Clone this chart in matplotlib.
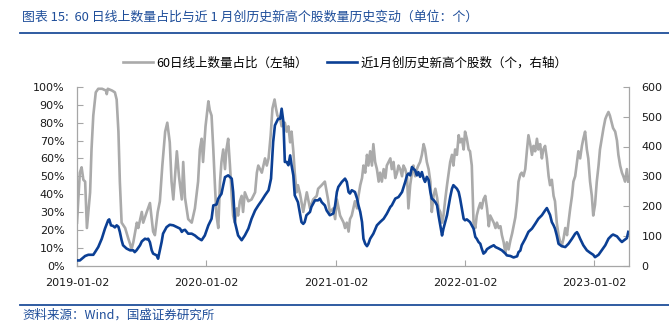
import matplotlib
matplotlib.use('Agg')
import matplotlib.pyplot as plt
from matplotlib.lines import Line2D
from matplotlib.ticker import PercentFormatter, MultipleLocator
from matplotlib.font_manager import FontProperties
import pandas as pd

TITLE = "图表 15:  60 日线上数量占比与近 1 月创历史新高个股数量历史变动（单位：个）"
SOURCE = "资料来源：Wind，国盛证券研究所"
LABEL_GRAY = "60日线上数量占比（左轴）"
LABEL_BLUE = "近1月创历史新高个股数（个，右轴）"
XTICK_LABELS = ["2019-01-02", "2020-01-02", "2021-01-02", "2022-01-02", "2023-01-02"]

gray_dates = [
    "2019-01-02", "2019-01-10", "2019-01-15", "2019-01-20", "2019-01-25", "2019-01-30", "2019-02-08", "2019-02-12",
    "2019-02-17", "2019-02-24", "2019-03-03", "2019-03-14", "2019-03-25", "2019-03-27", "2019-03-30", "2019-04-11",
    "2019-04-19", "2019-04-24", "2019-04-29", "2019-05-03", "2019-05-08", "2019-05-18", "2019-05-27", "2019-06-01",
    "2019-06-05", "2019-06-10", "2019-06-20", "2019-06-24", "2019-07-04", "2019-07-08", "2019-07-18", "2019-07-27",
    "2019-08-05", "2019-08-10", "2019-08-18", "2019-08-24", "2019-08-31", "2019-09-08", "2019-09-14", "2019-09-21",
    "2019-09-26", "2019-10-01", "2019-10-11", "2019-10-17", "2019-10-25", "2019-10-29", "2019-11-03", "2019-11-12",
    "2019-11-22", "2019-12-01", "2019-12-10", "2019-12-15", "2019-12-20", "2019-12-24", "2019-12-31",
    "2020-01-08", "2020-01-12", "2020-01-17", "2020-01-22", "2020-01-27", "2020-01-31", "2020-02-05", "2020-02-10",
    "2020-02-14", "2020-02-19", "2020-02-24", "2020-02-28", "2020-03-04", "2020-03-09", "2020-03-14", "2020-03-18",
    "2020-03-23", "2020-03-28", "2020-04-01", "2020-04-06", "2020-04-11", "2020-04-15", "2020-04-20", "2020-04-30",
    "2020-05-09", "2020-05-19", "2020-05-24", "2020-05-28", "2020-06-07", "2020-06-16", "2020-06-21", "2020-06-26",
    "2020-07-02", "2020-07-07", "2020-07-13", "2020-07-17", "2020-07-21", "2020-07-29", "2020-08-02", "2020-08-11",
    "2020-08-16", "2020-08-21", "2020-08-26", "2020-08-30", "2020-09-04", "2020-09-08", "2020-09-13", "2020-09-17",
    "2020-09-23", "2020-10-02", "2020-10-12", "2020-10-21", "2020-10-30", "2020-11-09", "2020-11-13", "2020-11-23",
    "2020-12-02", "2020-12-11", "2020-12-16", "2020-12-26", "2020-12-31",
    "2021-01-05", "2021-01-14", "2021-01-24", "2021-01-28", "2021-02-02", "2021-02-07", "2021-02-11", "2021-02-16",
    "2021-02-25", "2021-03-03", "2021-03-07", "2021-03-12", "2021-03-17", "2021-03-21", "2021-03-26", "2021-03-31",
    "2021-04-04", "2021-04-09", "2021-04-14", "2021-04-18", "2021-04-23", "2021-04-28", "2021-05-03", "2021-05-07",
    "2021-05-12", "2021-05-17", "2021-05-22", "2021-05-26", "2021-05-31", "2021-06-05", "2021-06-09", "2021-06-14",
    "2021-06-19", "2021-06-24", "2021-06-28", "2021-07-03", "2021-07-08", "2021-07-12", "2021-07-17", "2021-07-22",
    "2021-07-26", "2021-07-31", "2021-08-05", "2021-08-09", "2021-08-14", "2021-08-19", "2021-08-23", "2021-08-28",
    "2021-09-02", "2021-09-07", "2021-09-11", "2021-09-16", "2021-09-21", "2021-09-26", "2021-09-30", "2021-10-05",
    "2021-10-10", "2021-10-15", "2021-10-19", "2021-10-24", "2021-10-29", "2021-11-02", "2021-11-07", "2021-11-12",
    "2021-11-17", "2021-11-21", "2021-11-26", "2021-11-30", "2021-12-05", "2021-12-10", "2021-12-15", "2021-12-19",
    "2021-12-24", "2021-12-29",
    "2022-01-02", "2022-01-07", "2022-01-12", "2022-01-16", "2022-01-21", "2022-01-26", "2022-01-31", "2022-02-04",
    "2022-02-09", "2022-02-14", "2022-02-18", "2022-02-23", "2022-02-28", "2022-03-05", "2022-03-10", "2022-03-14",
    "2022-03-19", "2022-03-24", "2022-03-29", "2022-04-02", "2022-04-07", "2022-04-12", "2022-04-16", "2022-04-21",
    "2022-04-26", "2022-04-30", "2022-05-05", "2022-05-10", "2022-05-15", "2022-05-19", "2022-05-24", "2022-05-29",
    "2022-06-02", "2022-06-07", "2022-06-11", "2022-06-16", "2022-06-21", "2022-06-26", "2022-06-30", "2022-07-05",
    "2022-07-10", "2022-07-14", "2022-07-19", "2022-07-24", "2022-07-28", "2022-08-02", "2022-08-07", "2022-08-11",
    "2022-08-16", "2022-08-21", "2022-08-26", "2022-08-30", "2022-09-04", "2022-09-09", "2022-09-13", "2022-09-18",
    "2022-09-23", "2022-09-28", "2022-10-02", "2022-10-07", "2022-10-12", "2022-10-17", "2022-10-21", "2022-10-26",
    "2022-10-31", "2022-11-04", "2022-11-09", "2022-11-14", "2022-11-18", "2022-11-23", "2022-11-28", "2022-12-02",
    "2022-12-07", "2022-12-12", "2022-12-16", "2022-12-21", "2022-12-26", "2022-12-30",
    "2023-01-04", "2023-01-09", "2023-01-14", "2023-01-18", "2023-01-23", "2023-01-28", "2023-02-02", "2023-02-06",
    "2023-02-11", "2023-02-15", "2023-02-20", "2023-02-24", "2023-03-02", "2023-03-07", "2023-03-11", "2023-03-16",
    "2023-03-21", "2023-03-25", "2023-03-30", "2023-04-04", "2023-04-08",
]
gray_pct = [
    24, 52, 55, 48, 47, 21, 41, 65, 84, 97, 99, 99, 98, 96, 99, 98, 97, 93, 75, 47, 24, 21, 15, 12, 9, 13, 24, 21,
    30, 24, 30, 35, 19, 17, 30, 36, 56, 75, 80, 69, 47, 37, 64, 50, 37, 58, 38, 26, 24, 32, 47, 65, 71, 58, 78,
    92, 87, 84, 65, 43, 28, 21, 47, 58, 65, 54, 65, 71, 56, 39, 28, 24, 32, 28, 36, 39, 30, 41, 36, 37, 41, 52, 56,
    52, 60, 56, 60, 73, 88, 93, 88, 84, 82, 78, 80, 75, 78, 69, 75, 64, 52, 41, 45, 40, 30, 41, 32, 37, 39, 43, 45,
    47, 37, 30, 32, 26,
    37, 28, 24, 21, 24, 19, 26, 28, 36, 32, 39, 45, 49, 56, 52, 62, 56, 64, 56, 68, 58, 54, 47, 52, 47, 54, 49, 56,
    58, 60, 54, 58, 49, 52, 56, 54, 50, 56, 54, 50, 32, 45, 52, 56, 50, 54, 56, 58, 62, 68, 65, 58, 54, 47, 30, 39,
    43, 38, 32, 30, 24, 28, 37, 45, 52, 58, 62, 56, 65, 62, 73, 69, 71, 65,
    75, 71, 65, 64, 56, 24, 21, 28, 32, 35, 32, 37, 39, 32, 22, 28, 26, 24, 21, 24, 21, 22, 17, 13, 7, 13, 9, 14,
    18, 22, 27, 36, 47, 51, 52, 50, 54, 65, 73, 68, 62, 67, 64, 71, 65, 68, 60, 65, 67, 60, 50, 45, 48, 39, 36, 24,
    17, 13, 11, 15, 21, 17, 24, 32, 39, 47, 50, 58, 64, 60, 67, 71, 75, 65, 60, 47, 39, 28,
    34, 47, 56, 65, 71, 77, 82, 84, 86, 84, 80, 77, 75, 70, 62, 56, 52, 50, 47, 54, 47,
]

blue_dates = [
    "2019-01-02", "2019-01-10", "2019-01-15", "2019-01-25", "2019-02-03", "2019-02-17", "2019-02-22", "2019-03-03",
    "2019-03-13", "2019-03-22", "2019-03-31", "2019-04-03", "2019-04-08", "2019-04-14", "2019-04-19", "2019-04-24",
    "2019-04-29", "2019-05-03", "2019-05-08", "2019-05-12", "2019-05-22", "2019-06-01", "2019-06-10", "2019-06-14",
    "2019-06-19", "2019-06-29", "2019-07-04", "2019-07-13", "2019-07-18", "2019-07-22", "2019-07-27", "2019-08-01",
    "2019-08-05", "2019-08-15", "2019-08-19", "2019-08-24", "2019-08-29", "2019-09-02", "2019-09-12", "2019-09-21",
    "2019-10-01", "2019-10-11", "2019-10-20", "2019-10-25", "2019-10-29", "2019-11-03", "2019-11-12", "2019-11-22",
    "2019-12-01", "2019-12-10", "2019-12-20", "2019-12-29",
    "2020-01-08", "2020-01-17", "2020-01-22", "2020-01-31", "2020-02-05", "2020-02-14", "2020-02-19", "2020-02-24",
    "2020-03-04", "2020-03-14", "2020-03-18", "2020-03-23", "2020-04-01", "2020-04-11", "2020-04-20", "2020-04-30",
    "2020-05-09", "2020-05-19", "2020-05-28", "2020-06-07", "2020-06-16", "2020-06-26", "2020-07-03", "2020-07-09",
    "2020-07-14", "2020-07-23", "2020-07-29", "2020-08-02", "2020-08-07", "2020-08-11", "2020-08-16", "2020-08-21",
    "2020-08-26", "2020-08-30", "2020-09-04", "2020-09-08", "2020-09-17", "2020-09-27", "2020-10-02", "2020-10-06",
    "2020-10-11", "2020-10-21", "2020-10-25", "2020-11-04", "2020-11-13", "2020-11-18", "2020-11-23", "2020-12-02",
    "2020-12-07", "2020-12-16", "2020-12-26", "2020-12-31",
    "2021-01-05", "2021-01-09", "2021-01-19", "2021-01-28", "2021-02-02", "2021-02-07", "2021-02-11", "2021-02-16",
    "2021-02-25", "2021-03-03", "2021-03-07", "2021-03-12", "2021-03-17", "2021-03-21", "2021-03-26", "2021-03-31",
    "2021-04-04", "2021-04-09", "2021-04-18", "2021-04-28", "2021-05-07", "2021-05-17", "2021-05-26", "2021-06-05",
    "2021-06-09", "2021-06-19", "2021-06-28", "2021-07-08", "2021-07-17", "2021-07-22", "2021-07-26", "2021-07-31",
    "2021-08-05", "2021-08-09", "2021-08-14", "2021-08-19", "2021-08-23", "2021-08-28", "2021-09-02", "2021-09-07",
    "2021-09-11", "2021-09-16", "2021-09-21", "2021-09-26", "2021-09-30", "2021-10-05", "2021-10-10", "2021-10-15",
    "2021-10-19", "2021-10-24", "2021-10-29", "2021-11-02", "2021-11-07", "2021-11-12", "2021-11-17", "2021-11-21",
    "2021-11-26", "2021-11-30", "2021-12-05", "2021-12-10", "2021-12-15", "2021-12-19", "2021-12-24", "2021-12-29",
    "2022-01-02", "2022-01-07", "2022-01-12", "2022-01-16", "2022-01-21", "2022-01-26", "2022-01-31", "2022-02-04",
    "2022-02-09", "2022-02-14", "2022-02-18", "2022-02-23", "2022-02-28", "2022-03-05", "2022-03-14", "2022-03-24",
    "2022-03-29", "2022-04-07", "2022-04-16", "2022-04-26", "2022-04-30", "2022-05-10", "2022-05-19", "2022-05-29",
    "2022-06-02", "2022-06-07", "2022-06-11", "2022-06-21", "2022-06-30", "2022-07-10", "2022-07-19", "2022-07-28",
    "2022-08-07", "2022-08-16", "2022-08-21", "2022-08-26", "2022-08-30", "2022-09-04", "2022-09-09", "2022-09-13",
    "2022-09-18", "2022-09-23", "2022-10-02", "2022-10-12", "2022-10-17", "2022-10-21", "2022-10-31", "2022-11-09",
    "2022-11-14", "2022-11-18", "2022-11-23", "2022-12-02", "2022-12-12", "2022-12-21", "2022-12-30",
    "2023-01-04", "2023-01-14", "2023-01-23", "2023-02-02", "2023-02-11", "2023-02-20", "2023-02-24", "2023-03-07",
    "2023-03-16", "2023-03-21", "2023-03-25", "2023-04-04", "2023-04-08",
]
blue_count = [
    17, 17, 22, 32, 36, 36, 45, 62, 90, 124, 152, 155, 135, 133, 128, 135, 130, 113, 85, 68, 57, 51, 51, 45, 51, 68,
    81, 90, 88, 90, 78, 51, 40, 34, 23, 51, 79, 107, 129, 137, 135, 129, 124, 113, 118, 120, 107, 107, 101, 92, 85, 101,
    135, 157, 202, 205, 225, 241, 270, 297, 303, 292, 247, 146, 101, 85, 101, 124, 157, 185, 202, 219, 236, 253, 292,
    415, 471, 493, 493, 527, 482, 348, 348, 337, 370, 337, 303, 236, 213, 146, 140, 146, 169, 180, 197, 219, 219, 225,
    213, 202, 185, 169, 175, 202,
    247, 264, 281, 292, 281, 247, 242, 253, 247, 225, 202, 180, 146, 90, 73, 65, 73, 90, 107, 135, 146, 157, 174, 197,
    202, 225, 230, 247, 281, 303, 309, 303, 331, 325, 320, 303, 314, 298, 314, 292, 281, 298, 287, 247, 225, 220, 213,
    202, 169, 135, 101, 124, 146, 169, 202, 230, 258, 270, 264, 258, 247, 225, 191, 157,
    152, 155, 150, 146, 135, 124, 96, 90, 79, 73, 57, 40, 45, 55, 62, 68, 62, 57, 51, 40, 34, 32, 27, 31, 45, 50, 68,
    90, 113, 124, 140, 157, 169, 185, 193, 180, 170, 146, 135, 124, 101, 73, 65, 62, 68, 73, 90, 107, 112, 104, 90, 68,
    51, 43, 36,
    28, 36, 51, 68, 90, 101, 104, 98, 85, 79, 83, 92, 113,
]

CJK = ['Noto Sans CJK SC', 'DejaVu Sans']
BLUE_TXT = '#1F4E9A'
GRAY_LINE = '#AAAAAA'
BLUE_LINE = '#0B3F94'
AXIS_GRAY = '#A6A6A6'

fig = plt.figure(figsize=(6.69, 3.30), dpi=100)
W, H = 669, 330
x0, x1, y0, y1 = 77, 629, 87, 265.5
ax = fig.add_axes([x0 / W, 1 - y1 / H, (x1 - x0) / W, (y1 - y0) / H])
ax2 = ax.twinx()

gd = pd.to_datetime(gray_dates)
bd = pd.to_datetime(blue_dates)
lg, = ax.plot(gd, [v / 100 for v in gray_pct], color=GRAY_LINE, lw=1.9, solid_joinstyle='round')
lb, = ax2.plot(bd, blue_count, color=BLUE_LINE, lw=1.9, solid_joinstyle='round')

ax.set_xlim(pd.Timestamp("2019-01-02"), pd.Timestamp("2023-04-10"))
ax.set_ylim(0, 1)
ax2.set_ylim(0, 600)
ax.yaxis.set_major_locator(MultipleLocator(0.1))
ax.yaxis.set_major_formatter(PercentFormatter(1.0, decimals=0))
ax2.yaxis.set_major_locator(MultipleLocator(100))
ax.set_xticks(pd.to_datetime(XTICK_LABELS))
ax.set_xticklabels(XTICK_LABELS)

for a in (ax, ax2):
    a.spines['top'].set_visible(False)
    for s in ('left', 'right', 'bottom'):
        a.spines[s].set_color(AXIS_GRAY)
        a.spines[s].set_linewidth(0.9)
    a.tick_params(direction='in', length=4, width=0.8, color=AXIS_GRAY,
                  labelsize=8, labelcolor='#1a1a1a', pad=9)
ax2.spines['left'].set_visible(False)
ax2.spines['bottom'].set_visible(False)
ax.spines['right'].set_visible(False)

fig.text(22 / W, 1 - 17 / H, TITLE, fontsize=9.3, color=BLUE_TXT, style='italic',
         family=CJK, va='center', ha='left')
fig.add_artist(Line2D([20 / W, 1.0], [1 - 33 / H] * 2, color=BLUE_TXT, lw=1.3))
fig.add_artist(Line2D([20 / W, 1.0], [1 - 305 / H] * 2, color=BLUE_TXT, lw=1.3))
fig.text(22 / W, 1 - 315 / H, SOURCE, fontsize=9, color=BLUE_TXT, style='italic',
         family=CJK, va='center', ha='left')

fig.legend([lg, lb], [LABEL_GRAY, LABEL_BLUE], loc='center', bbox_to_anchor=(345 / W, 1 - 63 / H),
           ncol=2, frameon=False, prop=FontProperties(family=CJK, size=9),
           handlelength=2.4, handletextpad=0.3, columnspacing=1.5)

fig.savefig('out.png', dpi=100)
